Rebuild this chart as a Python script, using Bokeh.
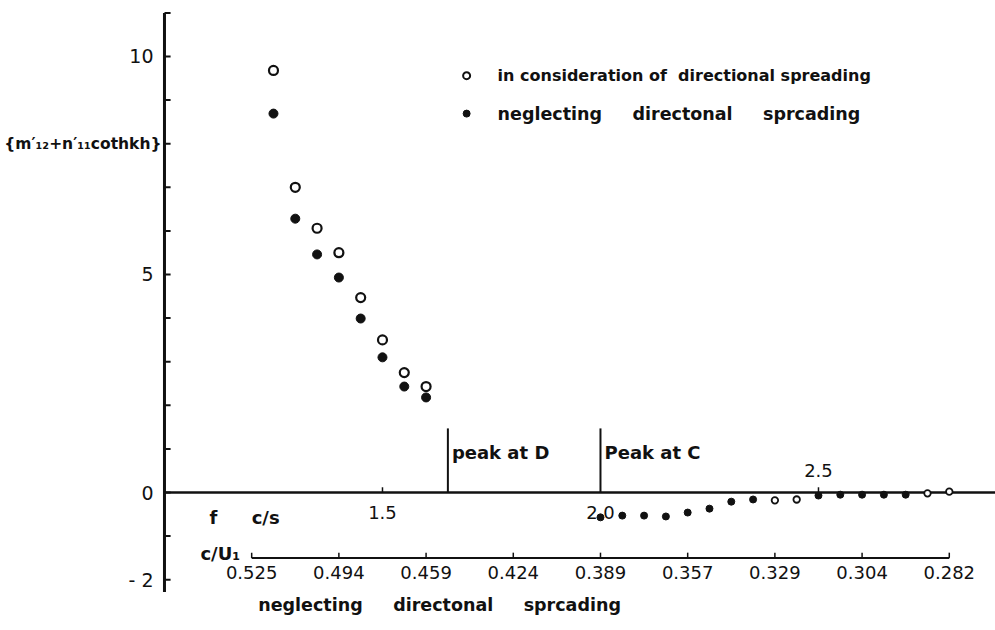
import numpy as np
from bokeh.plotting import figure
from bokeh.models import Range1d
from bokeh.core.properties import value
from bokeh.embed import file_html
from bokeh.resources import INLINE

# ---------------- data ----------------
f_open = [1.25, 1.30, 1.35, 1.40, 1.45, 1.50, 1.55, 1.60, 2.40, 2.45, 2.75, 2.80]
v_open = [9.68, 7.00, 6.06, 5.50, 4.47, 3.50, 2.75, 2.43, -0.18, -0.16, -0.02, 0.02]
f_filled = [1.25, 1.30, 1.35, 1.40, 1.45, 1.50, 1.55, 1.60,
            2.00, 2.05, 2.10, 2.15, 2.20, 2.25, 2.30, 2.35, 2.50, 2.55, 2.60, 2.65, 2.70]
v_filled = [8.69, 6.28, 5.46, 4.93, 3.99, 3.10, 2.43, 2.18,
            -0.57, -0.53, -0.53, -0.55, -0.46, -0.37, -0.21, -0.16, -0.07, -0.05, -0.05, -0.05, -0.05]

y_ticks = list(range(-2, 12))
y_label_vals = [10, 5, 0, -2]
y_label_text = ["10", "5", "0", "- 2"]

f_tick_vals = [1.5, 2.5]
f_label_below_vals = [1.5, 2.0]
f_label_below_text = ["1.5", "2.0"]
f_label_above_vals = [2.5]
f_label_above_text = ["2.5"]

cu_tick_f = [1.2, 1.4, 1.6, 1.8, 2.0, 2.2, 2.4, 2.6, 2.8]
cu_labels = ["0.525", "0.494", "0.459", "0.424", "0.389", "0.357", "0.329", "0.304", "0.282"]

peak_f = [1.65, 2.0]
peak_text = ["peak at D", "Peak at C"]

NB = "\u00a0"
legend_text_1 = "in" + NB + "consideration" + NB + "of" + NB + NB + "directional" + NB + "spreading"
legend_text_2 = "neglecting" + NB * 5 + "directonal" + NB * 5 + "sprcading"
y_title = "{m\u2032\u2081\u2082+n\u2032\u2081\u2081cothkh}"
bottom_title = "neglecting" + NB * 5 + "directonal" + NB * 5 + "sprcading"

# ---------------- layout constants ----------------
FONT = value("DejaVu Sans")
X0, X1 = 0.6239, 2.906
Y0, Y1 = -3.165, 11.284
AXIS_F = 1.0
INK = "#111111"

p = figure(width=995, height=630, x_range=Range1d(X0, X1), y_range=Range1d(Y0, Y1),
           output_backend="svg", toolbar_location=None, x_axis_type=None, y_axis_type=None,
           min_border=0, outline_line_color=None, background_fill_color="white",
           border_fill_color="white")
p.grid.visible = False

# y axis
p.segment(x0=[AXIS_F], y0=[-2.28], x1=[AXIS_F], y1=[11.0], line_color=INK, line_width=3)
yt = np.array(y_ticks, dtype=float)
p.segment(x0=np.full(len(yt), AXIS_F), y0=yt, x1=np.full(len(yt), AXIS_F + 0.014), y1=yt,
          line_color=INK, line_width=2)
p.text(x=np.full(len(y_label_vals), AXIS_F), y=y_label_vals, text=y_label_text,
       x_offset=-11, text_align="right", text_baseline="middle",
       text_font=FONT, text_font_size="19px", text_color=INK)
p.text(x=[AXIS_F], y=[8.0], text=[y_title], x_offset=-3, text_align="right",
       text_baseline="middle", text_font=FONT, text_font_size="15.5px",
       text_font_style="bold", text_color=INK)

# x axis (f, c/s)
p.segment(x0=[AXIS_F], y0=[0], x1=[X1], y1=[0], line_color=INK, line_width=2.5)
p.segment(x0=f_tick_vals, y0=[0] * len(f_tick_vals), x1=f_tick_vals, y1=[0.12] * len(f_tick_vals),
          line_color=INK, line_width=1.5)
p.text(x=f_label_below_vals, y=[-0.46] * len(f_label_below_vals), text=f_label_below_text,
       text_align="center", text_baseline="middle", text_font=FONT, text_font_size="18px",
       text_color=INK)
p.text(x=f_label_above_vals, y=[0.50] * len(f_label_above_vals), text=f_label_above_text,
       text_align="center", text_baseline="middle", text_font=FONT, text_font_size="18px",
       text_color=INK)
p.text(x=[1.112, 1.232], y=[-0.57, -0.57], text=["f", "c/s"], text_align="center",
       text_baseline="middle", text_font=FONT, text_font_size="18px",
       text_font_style="bold", text_color=INK)

# peak markers
p.segment(x0=peak_f, y0=[0, 0], x1=peak_f, y1=[1.47, 1.47], line_color=INK, line_width=2)
p.text(x=peak_f, y=[0.92, 0.92], text=peak_text, x_offset=4, text_align="left",
       text_baseline="middle", text_font=FONT, text_font_size="18px",
       text_font_style="bold", text_color=INK)

# secondary c/U1 scale
p.segment(x0=[cu_tick_f[0]], y0=[-1.5], x1=[cu_tick_f[-1]], y1=[-1.5], line_color=INK, line_width=2)
p.segment(x0=cu_tick_f, y0=[-1.5] * len(cu_tick_f), x1=cu_tick_f, y1=[-1.38] * len(cu_tick_f),
          line_color=INK, line_width=1.5)
p.text(x=cu_tick_f, y=[-1.83] * len(cu_tick_f), text=cu_labels, text_align="center",
       text_baseline="middle", text_font=FONT, text_font_size="18px", text_color=INK)
p.text(x=[1.128], y=[-1.40], text=["c/U\u2081"], text_align="center", text_baseline="middle",
       text_font=FONT, text_font_size="18px", text_font_style="bold", text_color=INK)
p.text(x=[1.631], y=[-2.59], text=[bottom_title], text_align="center", text_baseline="middle",
       text_font=FONT, text_font_size="17.5px", text_font_style="bold", text_color=INK)

# data points
fo = np.array(f_open); vo = np.array(v_open)
ff = np.array(f_filled); vf = np.array(v_filled)
hi_o, hi_f = vo > 1, vf > 1
p.scatter(fo[hi_o], vo[hi_o], marker="circle", size=9, fill_color="white",
          line_color=INK, line_width=2.2)
p.scatter(fo[~hi_o], vo[~hi_o], marker="circle", size=6.5, fill_color="white",
          line_color=INK, line_width=1.8)
p.scatter(ff[hi_f], vf[hi_f], marker="circle", size=9, fill_color=INK, line_color=INK)
p.scatter(ff[~hi_f], vf[~hi_f], marker="circle", size=7, fill_color=INK, line_color=INK)

# legend (manual)
p.scatter([1.693], [9.56], marker="circle", size=7, fill_color="white", line_color=INK, line_width=2)
p.scatter([1.693], [8.69], marker="circle", size=7, fill_color=INK, line_color=INK)
p.text(x=[1.764], y=[9.56], text=[legend_text_1], text_align="left",
       text_baseline="middle", text_font=FONT, text_font_size="16px",
       text_font_style="bold", text_color=INK)
p.text(x=[1.764], y=[8.69], text=[legend_text_2], text_align="left",
       text_baseline="middle", text_font=FONT, text_font_size="17.5px",
       text_font_style="bold", text_color=INK)

open("out.html", "w").write(file_html(p, INLINE))
